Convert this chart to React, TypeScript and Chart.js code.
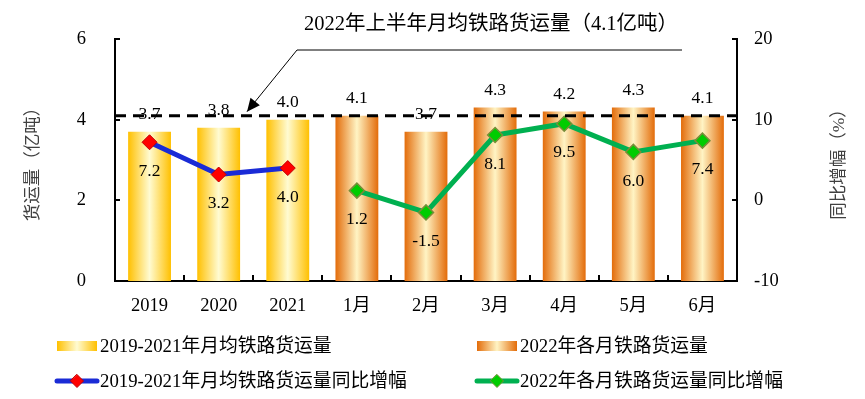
import React, { useEffect, useRef } from 'react';
import { Chart, registerables } from 'chart.js';

Chart.register(...registerables);

const categories = ['2019', '2020', '2021', '1月', '2月', '3月', '4月', '5月', '6月'];
const avgVolume = [3.7, 3.8, 4.0, null, null, null, null, null, null];
const monthlyVolume = [null, null, null, 4.1, 3.7, 4.3, 4.2, 4.3, 4.1];
const avgGrowth = [7.2, 3.2, 4.0, null, null, null, null, null, null];
const monthlyGrowth = [null, null, null, 1.2, -1.5, 8.1, 9.5, 6.0, 7.4];
const halfYearAvg = 4.1;
const leftTicks = [0, 2, 4, 6];
const rightTicks = [-10, 0, 10, 20];

const legendLabels = [
  '2019-2021年月均铁路货运量',
  '2022年各月铁路货运量',
  '2019-2021年月均铁路货运量同比增幅',
  '2022年各月铁路货运量同比增幅',
];
const annotationText = '2022年上半年月均铁路货运量（4.1亿吨）';
const leftTitle = '货运量（亿吨）';
const rightTitle = '同比增幅（%）';

const FONT = "'Liberation Serif', 'Noto Sans CJK SC', serif";
const BAR_PCT = 0.62;

const yellowStops: [number, string][] = [[0, '#FFC000'], [0.5, '#FFFBD2'], [1, '#FFC000']];
const orangeStops: [number, string][] = [[0, '#E36C0A'], [0.5, '#FFF4C4'], [1, '#E36C0A']];

function grad(ctx: CanvasRenderingContext2D, x0: number, x1: number, stops: [number, string][]) {
  const g = ctx.createLinearGradient(x0, 0, x1, 0);
  stops.forEach(([o, c]) => g.addColorStop(o, c));
  return g;
}

function barFill(stops: [number, string][]) {
  return (c: any) => {
    const chart = c.chart;
    const xs = chart.scales && chart.scales.x;
    if (!xs || c.dataIndex === undefined || !isFinite(xs.width) || xs.width <= 0) return stops[0][1];
    const center = xs.getPixelForTick(c.dataIndex);
    const w = (xs.width / categories.length) * BAR_PCT;
    return grad(chart.ctx, center - w / 2, center + w / 2, stops);
  };
}

function diamond(ctx: CanvasRenderingContext2D, x: number, y: number, r: number, fill: string, stroke: string) {
  ctx.save();
  ctx.beginPath();
  ctx.moveTo(x, y - r);
  ctx.lineTo(x + r, y);
  ctx.lineTo(x, y + r);
  ctx.lineTo(x - r, y);
  ctx.closePath();
  ctx.fillStyle = fill;
  ctx.fill();
  ctx.strokeStyle = stroke;
  ctx.lineWidth = 1;
  ctx.stroke();
  ctx.restore();
}

const decorPlugin = {
  id: 'decor',
  afterDatasetsDraw(chart: any) {
    const ctx: CanvasRenderingContext2D = chart.ctx;
    const area = chart.chartArea;
    const y = chart.scales.y;
    ctx.save();
    // data labels
    ctx.fillStyle = '#000';
    ctx.font = `17.5px ${FONT}`;
    ctx.textAlign = 'center';
    ctx.textBaseline = 'middle';
    [0, 1].forEach((di) => {
      const meta = chart.getDatasetMeta(di);
      const data = chart.data.datasets[di].data;
      meta.data.forEach((el: any, i: number) => {
        const v = data[i];
        if (v === null || v === undefined) return;
        ctx.fillText(v.toFixed(1), el.x, el.y - 17);
      });
    });
    [2, 3].forEach((di) => {
      const meta = chart.getDatasetMeta(di);
      const data = chart.data.datasets[di].data;
      meta.data.forEach((el: any, i: number) => {
        const v = data[i];
        if (v === null || v === undefined) return;
        ctx.fillText(v.toFixed(1), el.x, el.y + 29);
      });
    });
    // dashed average line
    const yd = y.getPixelForValue(halfYearAvg);
    ctx.beginPath();
    ctx.setLineDash([11, 7]);
    ctx.lineWidth = 3;
    ctx.strokeStyle = '#000';
    ctx.moveTo(area.left, yd);
    ctx.lineTo(area.right, yd);
    ctx.stroke();
    ctx.setLineDash([]);
    ctx.restore();
  },
  afterDraw(chart: any) {
    const ctx: CanvasRenderingContext2D = chart.ctx;
    const area = chart.chartArea;
    const y = chart.scales.y;
    const y1 = chart.scales.y1;
    ctx.save();
    // inward tick marks
    ctx.strokeStyle = '#000';
    ctx.lineWidth = 2;
    ctx.beginPath();
    leftTicks.forEach((v) => {
      const py = Math.round(y.getPixelForValue(v));
      ctx.moveTo(area.left, py);
      ctx.lineTo(area.left + 5, py);
    });
    rightTicks.forEach((v) => {
      const py = Math.round(y1.getPixelForValue(v));
      ctx.moveTo(area.right - 5, py);
      ctx.lineTo(area.right, py);
    });
    const cw = (area.right - area.left) / categories.length;
    for (let i = 1; i < categories.length; i++) {
      const px = Math.round(area.left + i * cw);
      ctx.moveTo(px, area.bottom);
      ctx.lineTo(px, area.bottom - 6);
    }
    ctx.stroke();

    // axis titles
    ctx.fillStyle = '#404040';
    ctx.font = `17.5px ${FONT}`;
    ctx.textAlign = 'center';
    ctx.textBaseline = 'middle';
    const cy = (area.top + area.bottom) / 2;
    ctx.save();
    ctx.translate(33, cy);
    ctx.rotate(-Math.PI / 2);
    ctx.fillText(leftTitle, 0, 0);
    ctx.restore();
    ctx.save();
    ctx.translate(839, cy);
    ctx.rotate(-Math.PI / 2);
    ctx.fillText(rightTitle, 0, 0);
    ctx.restore();

    // annotation
    ctx.fillStyle = '#000';
    ctx.font = `20.5px ${FONT}`;
    ctx.fillText(annotationText, 491, 25);
    const yd = y.getPixelForValue(halfYearAvg);
    const tipX = 247;
    const tipY = yd - 4;
    const sx = 297;
    const sy = 50;
    ctx.strokeStyle = '#000';
    ctx.lineWidth = 1;
    ctx.beginPath();
    ctx.moveTo(682, sy);
    ctx.lineTo(sx, sy);
    ctx.lineTo(tipX, tipY);
    ctx.stroke();
    const ang = Math.atan2(tipY - sy, tipX - sx);
    const hl = 13;
    const hw = 6;
    const bx = tipX - hl * Math.cos(ang);
    const by = tipY - hl * Math.sin(ang);
    ctx.beginPath();
    ctx.moveTo(tipX, tipY);
    ctx.lineTo(bx + hw * Math.sin(ang), by - hw * Math.cos(ang));
    ctx.lineTo(bx - hw * Math.sin(ang), by + hw * Math.cos(ang));
    ctx.closePath();
    ctx.fillStyle = '#000';
    ctx.fill();

    // legend
    ctx.font = `18.8px ${FONT}`;
    ctx.textAlign = 'left';
    ctx.textBaseline = 'middle';
    const r1 = 346;
    const r2 = 381;
    ctx.fillStyle = grad(ctx, 57, 97, yellowStops);
    ctx.fillRect(57, r1 - 5, 40, 10);
    ctx.fillStyle = grad(ctx, 477, 517, orangeStops);
    ctx.fillRect(477, r1 - 5, 40, 10);
    ctx.lineCap = 'round';
    ctx.lineWidth = 5;
    ctx.strokeStyle = '#1A2BD6';
    ctx.beginPath();
    ctx.moveTo(57, r2);
    ctx.lineTo(97, r2);
    ctx.stroke();
    diamond(ctx, 77, r2, 6.5, '#FF0000', '#C00000');
    ctx.lineWidth = 5;
    ctx.strokeStyle = '#00B050';
    ctx.beginPath();
    ctx.moveTo(477, r2);
    ctx.lineTo(517, r2);
    ctx.stroke();
    diamond(ctx, 497, r2, 6.5, '#00CC00', '#7A8C3A');
    ctx.fillStyle = '#000';
    ctx.fillText(legendLabels[0], 100, r1 + 1);
    ctx.fillText(legendLabels[1], 520, r1 + 1);
    ctx.fillText(legendLabels[2], 100, r2 + 1);
    ctx.fillText(legendLabels[3], 520, r2 + 1);
    ctx.restore();
  },
};

export default function App() {
  const ref = useRef<HTMLCanvasElement | null>(null);
  useEffect(() => {
    if (!ref.current) return;
    const chart = new Chart(ref.current, {
      type: 'bar',
      data: {
        labels: categories,
        datasets: [
          {
            type: 'bar',
            label: legendLabels[0],
            data: avgVolume,
            yAxisID: 'y',
            backgroundColor: barFill(yellowStops),
            borderWidth: 0,
            skipNull: true,
            categoryPercentage: 1,
            barPercentage: BAR_PCT,
            order: 2,
          } as any,
          {
            type: 'bar',
            label: legendLabels[1],
            data: monthlyVolume,
            yAxisID: 'y',
            backgroundColor: barFill(orangeStops),
            borderWidth: 0,
            skipNull: true,
            categoryPercentage: 1,
            barPercentage: BAR_PCT,
            order: 2,
          } as any,
          {
            type: 'line',
            label: legendLabels[2],
            data: avgGrowth,
            yAxisID: 'y1',
            borderColor: '#1A2BD6',
            borderWidth: 5,
            pointStyle: 'rectRot',
            pointRadius: 7.5,
            pointBackgroundColor: '#FF0000',
            pointBorderColor: '#C00000',
            pointBorderWidth: 1,
            spanGaps: false,
            order: 0,
          } as any,
          {
            type: 'line',
            label: legendLabels[3],
            data: monthlyGrowth,
            yAxisID: 'y1',
            borderColor: '#00B050',
            borderWidth: 5,
            pointStyle: 'rectRot',
            pointRadius: 7.5,
            pointBackgroundColor: '#00CC00',
            pointBorderColor: '#7A8C3A',
            pointBorderWidth: 1.5,
            spanGaps: false,
            order: 0,
          } as any,
        ],
      },
      options: {
        responsive: false,
        animation: false,
        devicePixelRatio: 1,
        layout: { padding: { top: 39, left: 0, right: 0, bottom: 0 } },
        plugins: { legend: { display: false }, tooltip: { enabled: false } },
        scales: {
          x: {
            grid: { display: false },
            border: { display: true, color: '#000', width: 2 },
            ticks: { color: '#000', font: { family: FONT, size: 18.5 }, padding: 6 },
            afterFit: (s: any) => {
              s.height = 118;
            },
          },
          y: {
            position: 'left',
            min: 0,
            max: 6,
            grid: { display: false },
            border: { display: true, color: '#000', width: 2 },
            ticks: { stepSize: 2, color: '#000', font: { family: FONT, size: 18.5 }, padding: 21 },
            afterFit: (s: any) => {
              s.width = 115;
            },
          },
          y1: {
            position: 'right',
            min: -10,
            max: 20,
            grid: { display: false },
            border: { display: true, color: '#000', width: 2 },
            ticks: { stepSize: 10, color: '#000', font: { family: FONT, size: 18.5 }, padding: 9 },
            afterFit: (s: any) => {
              s.width = 128;
            },
          },
        },
      } as any,
      plugins: [decorPlugin],
    });
    return () => chart.destroy();
  }, []);
  return (
    <div style={{ position: 'absolute', left: 0, top: 0, width: 865, height: 399, background: '#fff' }}>
      <canvas ref={ref} width={865} height={399} style={{ display: 'block' }} />
    </div>
  );
}
